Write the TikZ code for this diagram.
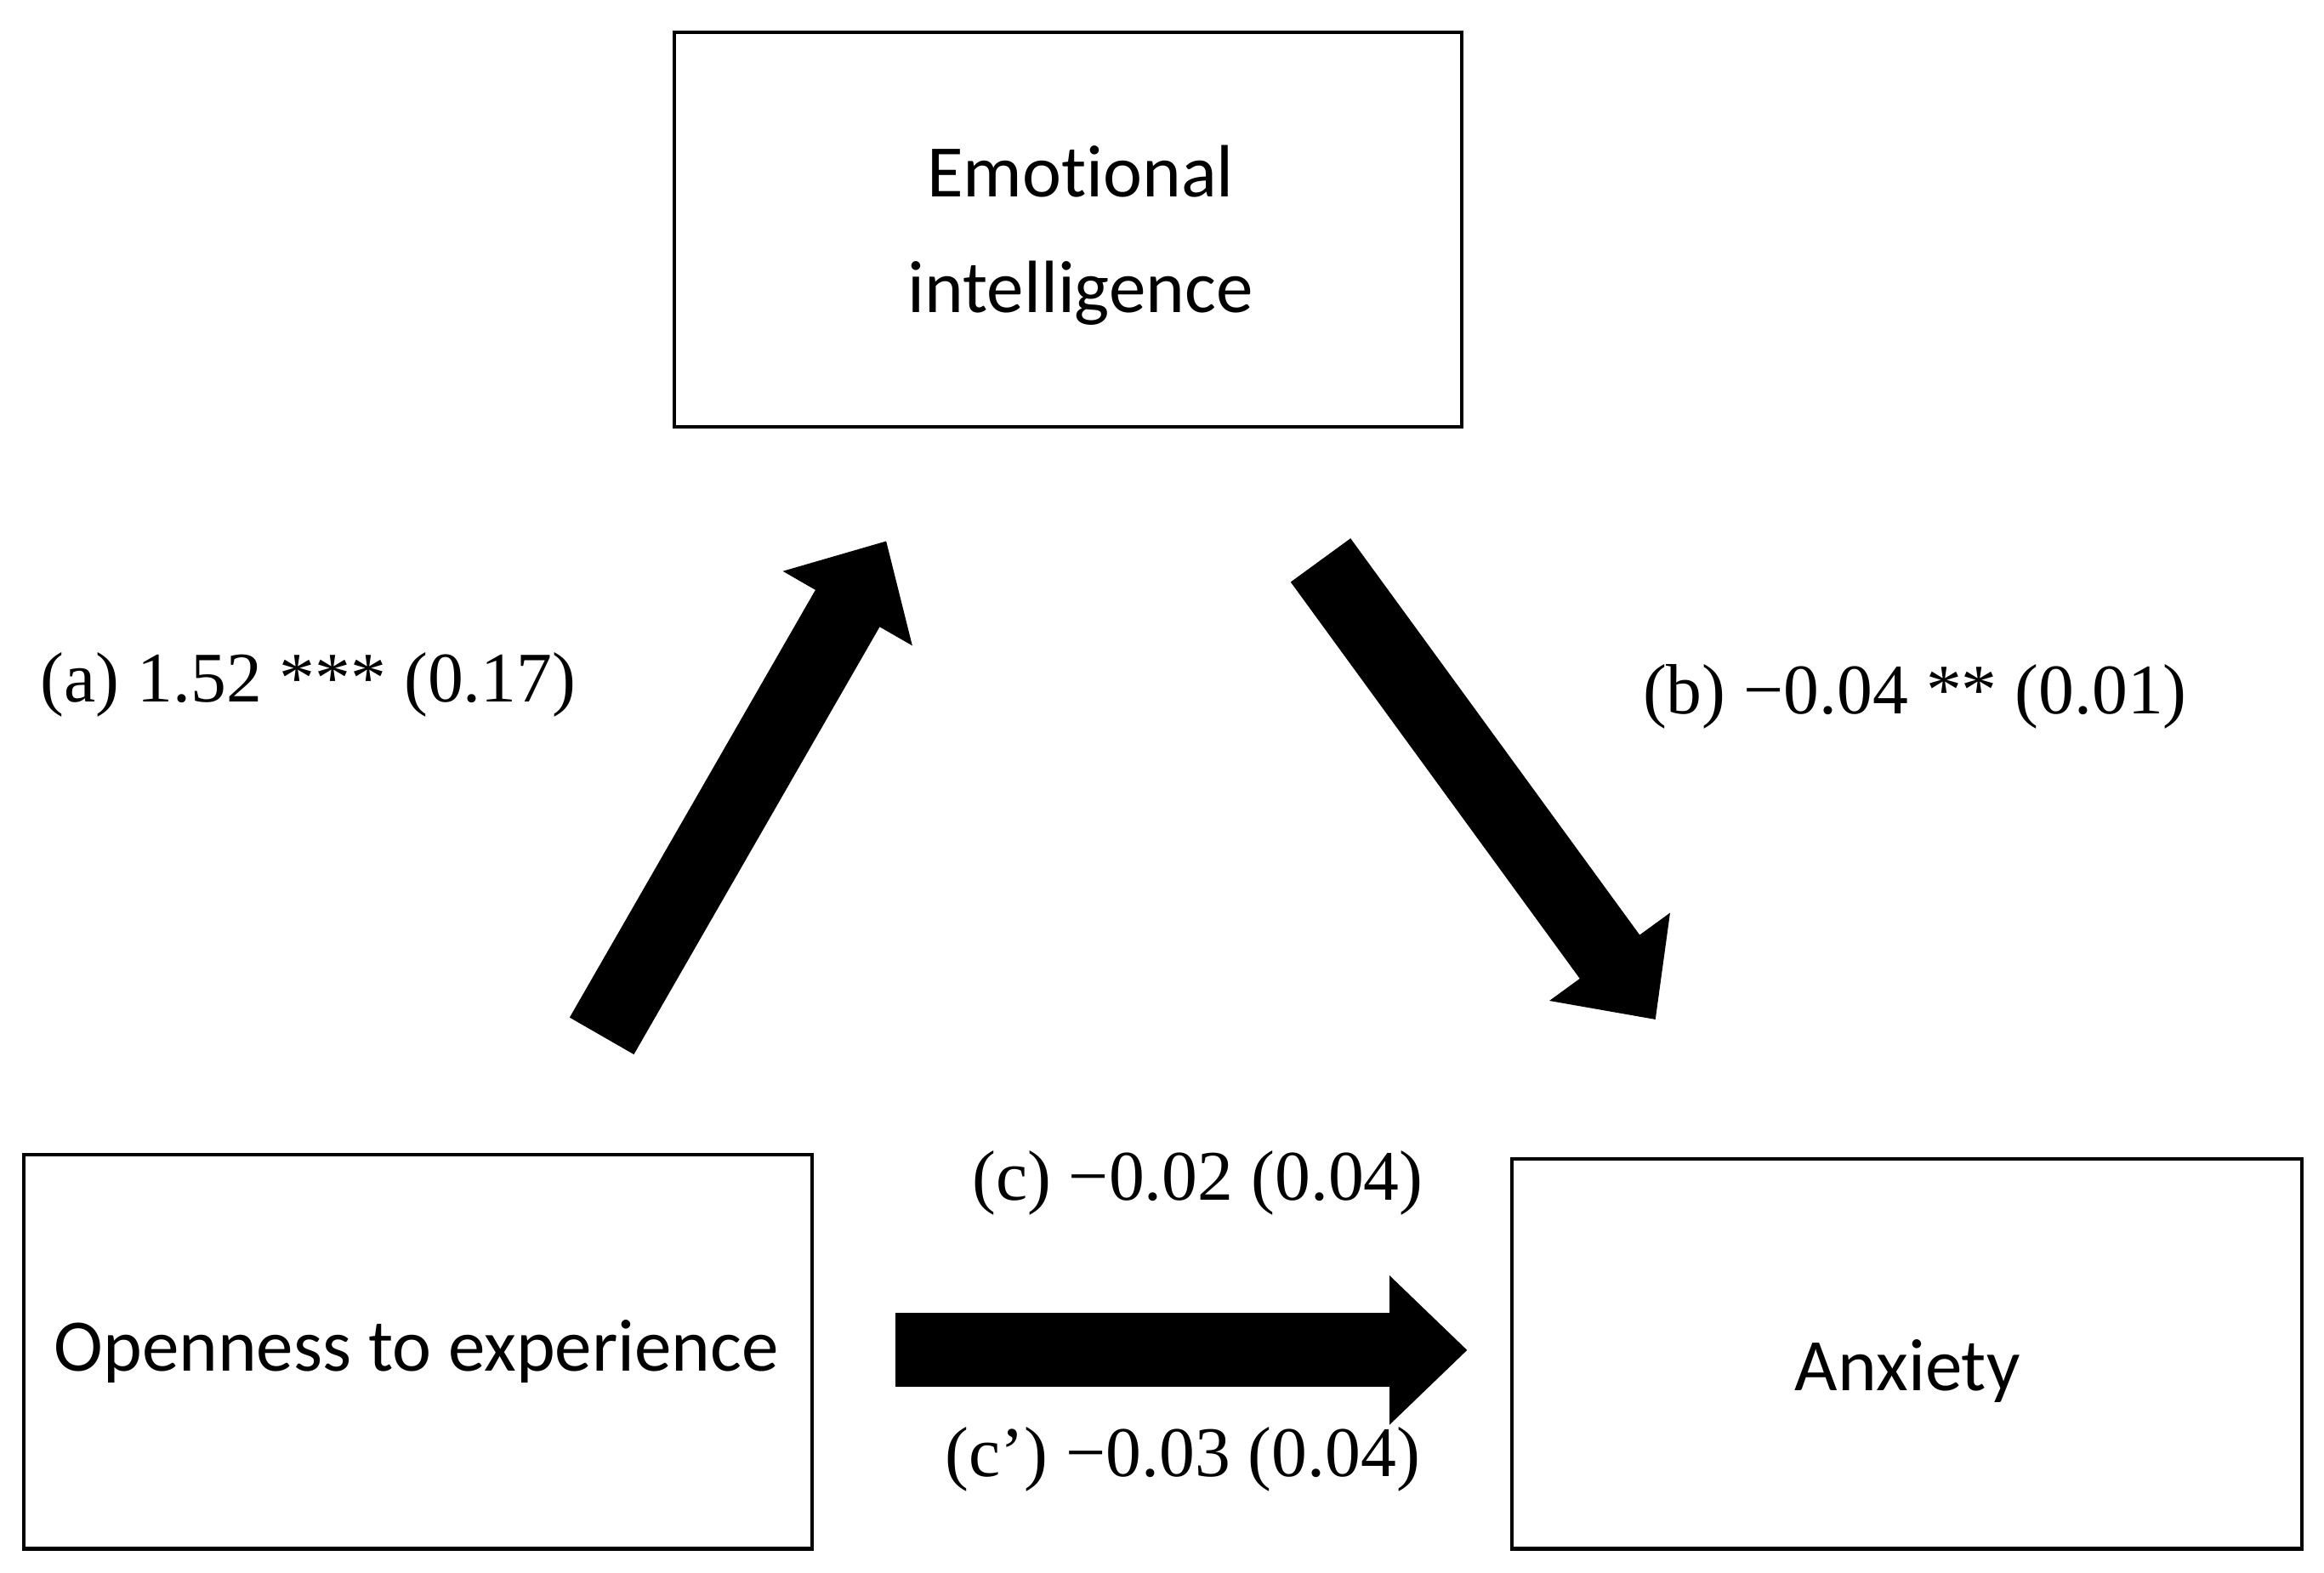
\documentclass[tikz,border=0pt]{standalone}
\usepackage{fontspec}
\setmainfont{Liberation Serif}
\newfontfamily\boxfont{Carlito}[Ligatures={NoCommon,NoRare}]
\usetikzlibrary{arrows.meta}
\begin{document}
\begin{tikzpicture}[x=0.5pt,y=-0.5pt,
  box/.style={draw,line width=1.2pt,inner sep=0pt},
  blk/.style={line width=25pt,-{Triangle[length=0pt 1.05,width=0pt 1.95]}},
  lbl/.style={font=\boxfont\fontsize{25}{39}\selectfont,align=center},
  coef/.style={font=\fontsize{24}{28}\selectfont}]
\useasboundingbox (0,0) rectangle (1568,1061);
\node[box,minimum width=265.5pt,minimum height=133pt] (ei) at (720.5,155) {};
\node[box,minimum width=266pt,minimum height=133pt] (op) at (282,912) {};
\node[box,minimum width=266.5pt,minimum height=131.5pt] (ax) at (1286.5,913.5) {};
\node[lbl] (eit) at (729,159) {Emotional\\intelligence};
\node[lbl] (opt) at (281,912) {Openness to experience};
\node[lbl] (axt) at (1287,925) {Anxiety};
\coordinate (a1) at (406,699); \coordinate (a2) at (598,365);
\coordinate (b1) at (891,378); \coordinate (b2) at (1117,688);
\coordinate (c1) at (604,911); \coordinate (c2) at (990,911);
\draw[blk] (a1) -- (a2);
\draw[blk] (b1) -- (b2);
\draw[blk] (c1) -- (c2);
\node[coef] (la) at (208,462) {(a) 1.52 *** (0.17)};
\node[coef] (lb) at (1292,470) {(b) −0.04 ** (0.01)};
\node[coef] (lc) at (808,798) {(c) −0.02 (0.04)};
\node[coef] (lc2) at (798,985) {(c’) −0.03 (0.04)};
\end{tikzpicture}
\end{document}
